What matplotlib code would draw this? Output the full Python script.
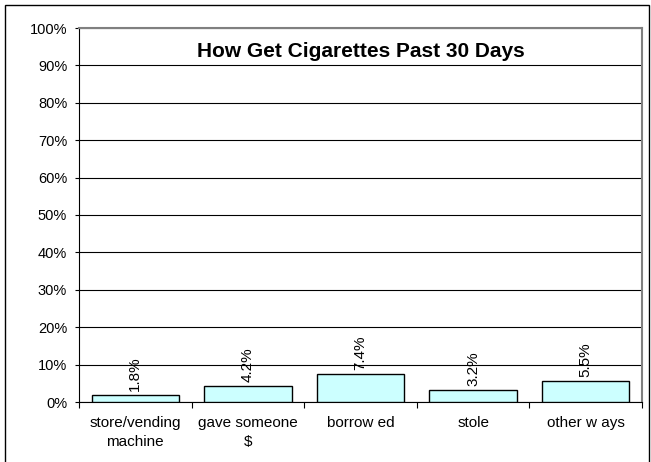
import numpy as np
import matplotlib.pyplot as plt
from matplotlib.patches import Rectangle
from matplotlib.ticker import FixedLocator, PercentFormatter

plt.rcParams['font.family'] = ['Liberation Sans', 'DejaVu Sans']

# survey results
sources = ['store/vending\nmachine', 'gave someone\n$', 'borrow ed', 'stole', 'other w ays']
shares = [1.8, 4.2, 7.4, 3.2, 5.5]
value_labels = ['1.8%', '4.2%', '7.4%', '3.2%', '5.5%']

fig = plt.figure(figsize=(6.51, 4.62), dpi=100)
fig.patch.set_facecolor('white')

# outer chart frame
fig.patches.append(Rectangle((5 / 651, -0.1), 644 / 651, 1.1 - 5 / 462,
                             transform=fig.transFigure, fill=False,
                             edgecolor='black', linewidth=1.0, clip_on=False))

ax = fig.add_axes([79 / 651, 1 - 402 / 462, 563 / 651, 374 / 462])

x = np.arange(len(sources))
ax.bar(x, shares, width=0.775, color='#ccffff', edgecolor='black',
       linewidth=1.0, zorder=3)

for xi, v, lab in zip(x, shares, value_labels):
    ax.annotate(lab, (xi, v), xytext=(0, 3), textcoords='offset points',
                rotation=90, ha='center', va='bottom', fontsize=11, zorder=4)

ax.set_xlim(-0.5, len(sources) - 0.5)
ax.set_ylim(0, 100)
ax.yaxis.set_major_locator(FixedLocator(np.arange(0, 101, 10)))
ax.yaxis.set_major_formatter(PercentFormatter(decimals=0))
ax.grid(axis='y', color='black', linewidth=0.8, zorder=0)

# ticks sit on the category boundaries, labels in the middle
ax.xaxis.set_major_locator(FixedLocator(np.arange(-0.5, len(sources), 1.0)))
ax.xaxis.set_major_formatter(plt.NullFormatter())
ax.xaxis.set_minor_locator(FixedLocator(x))
ax.set_xticklabels(sources, minor=True, fontsize=11, linespacing=1.5)
ax.tick_params(axis='x', which='minor', length=0, pad=10)
ax.tick_params(axis='x', which='major', length=4, width=0.8, direction='out')
ax.tick_params(axis='y', length=3, width=0.8, direction='out', labelsize=10.5, pad=5.5)

for side in ['top', 'right']:
    ax.spines[side].set_color('#808080')
    ax.spines[side].set_linewidth(1.5)
for side in ['left', 'bottom']:
    ax.spines[side].set_color('black')
    ax.spines[side].set_linewidth(0.8)

ax.text(0.5, 0.936, 'How Get Cigarettes Past 30 Days', transform=ax.transAxes,
        ha='center', va='center', fontsize=15, fontweight='bold')

fig.savefig('out.png', dpi=100)
